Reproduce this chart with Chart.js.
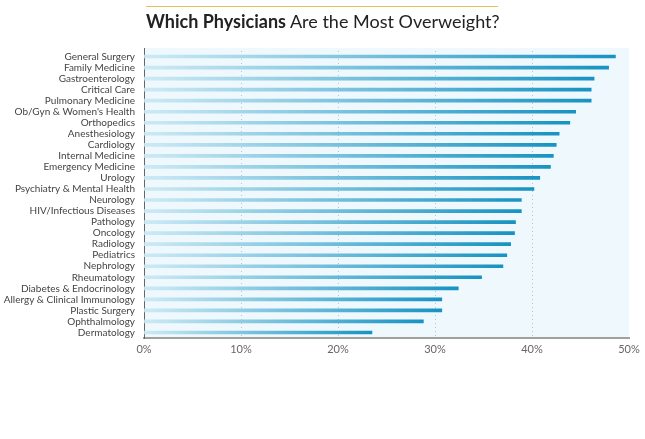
<!DOCTYPE html>
<html>
<head>
<meta charset="utf-8">
<script src="https://cdn.jsdelivr.net/npm/chart.js@4"></script>
<style>
body{margin:0;background:#fff;font-family:Lato,sans-serif;}
#wrap{position:relative;width:645px;height:439px;}
#title{position:absolute;left:146px;top:6px;width:352px;border-top:1px solid #e3c25e;padding-top:3px;font-size:18px;color:#222;white-space:nowrap;}
#title b{font-weight:700;}
canvas{position:absolute;left:0;top:0;}
</style>
</head>
<body>
<div id="wrap">
<canvas id="chart" width="645" height="439"></canvas>
<div id="title"><b>Which Physicians</b> Are the Most Overweight?</div>
</div>
<script>
const specialties=["General Surgery","Family Medicine","Gastroenterology","Critical Care","Pulmonary Medicine","Ob/Gyn & Women's Health","Orthopedics","Anesthesiology","Cardiology","Internal Medicine","Emergency Medicine","Urology","Psychiatry & Mental Health","Neurology","HIV/Infectious Diseases","Pathology","Oncology","Radiology","Pediatrics","Nephrology","Rheumatology","Diabetes & Endocrinology","Allergy & Clinical Immunology","Plastic Surgery","Ophthalmology","Dermatology"];
const overweight=[48.6,47.9,46.4,46.1,46.1,44.5,43.9,42.8,42.5,42.2,41.9,40.8,40.2,38.9,38.9,38.3,38.2,37.8,37.4,37.0,34.8,32.4,30.7,30.7,28.8,23.5];
const xTicks=[0,10,20,30,40,50];

// light panel behind the bars, starts a little above the first row
const plotBg={
id:"plotBg",
beforeDraw(chart){
let a=chart.chartArea,c=chart.ctx;
c.save();
c.fillStyle="#eef8fd";
c.fillRect(a.left,a.top-3,a.right-a.left,a.bottom-a.top+3);
c.strokeStyle="#666";
c.lineWidth=1;
c.beginPath();
c.moveTo(a.left+0.5,a.top-3);
c.lineTo(a.left+0.5,a.top);
c.stroke();
c.restore();
}
};

function barColor(ctx){
let chart=ctx.chart;
if(!chart.chartArea||ctx.type!=="data") return "#1b96c4";
let xs=chart.scales.x;
let x0=xs.getPixelForValue(0);
let x1=xs.getPixelForValue(ctx.raw);
let g=chart.ctx.createLinearGradient(x0,0,x1,0);
g.addColorStop(0,"#cdeaf5");
g.addColorStop(1,"#1793c2");
return g;
}

new Chart(document.getElementById("chart"),{
type:"bar",
data:{
labels:specialties,
datasets:[{
data:overweight,
backgroundColor:barColor,
barThickness:3
}]
},
plugins:[plotBg],
options:{
indexAxis:"y",
responsive:false,
animation:false,
layout:{padding:{top:51,right:16,left:0,bottom:0}},
plugins:{legend:{display:false},tooltip:{enabled:false}},
scales:{
x:{
min:0,max:50,
afterBuildTicks(s){s.ticks=xTicks.map(v=>({value:v}));},
afterFit(s){s.height=101;},
ticks:{callback:v=>v+"%",color:"#666",font:{family:"Lato",size:11},padding:5},
grid:{
color:ctx=>(ctx.tick&&(ctx.tick.value===0||ctx.tick.value===50))?"rgba(0,0,0,0)":"#b9c4cc",
borderDash:[1,3],
drawTicks:false
},
border:{display:true,color:"#a0a0a0",width:2,dash:[1,3]}
},
y:{
afterFit(s){s.width=144;},
ticks:{color:"#444",font:{family:"Lato",size:10},padding:9,autoSkip:false},
grid:{display:false,drawTicks:false},
border:{display:true,color:"#666",width:1}
}
}
}
});
</script>
</body>
</html>
